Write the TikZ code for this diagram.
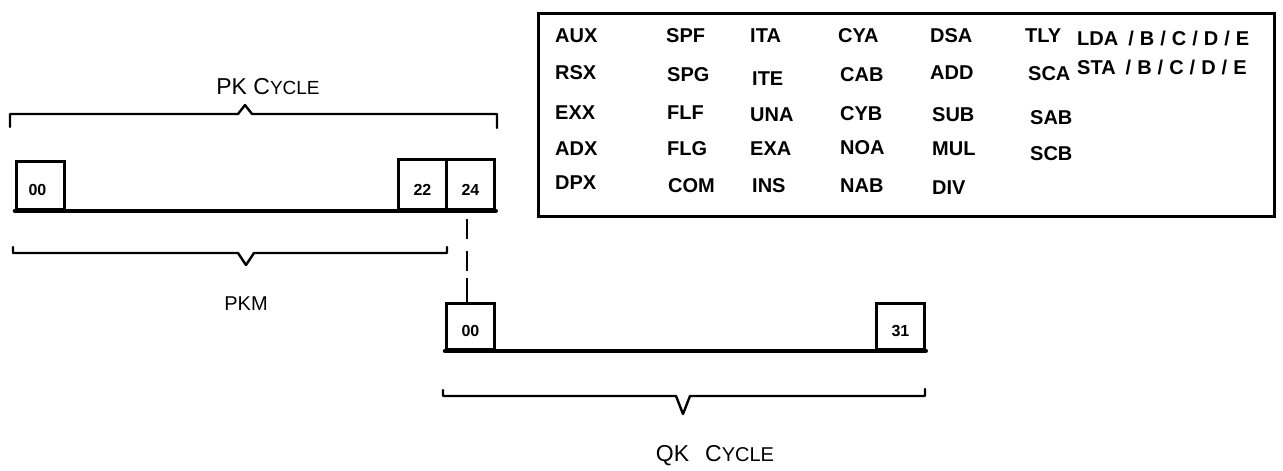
\documentclass[tikz,border=0pt]{standalone}
\usepackage{fontspec}
\setmainfont{Liberation Sans}
\newcommand{\sep}{\hspace{6pt}/\hspace{6pt}}
\begin{document}
\begin{tikzpicture}[x=1pt,y=-1pt,
  brace/.style={line width=2.4pt,line cap=round,line join=round},
  slot/.style={draw,line width=2.8pt,inner sep=0pt,anchor=north west},
  num/.style={font=\fontsize{16}{16}\selectfont\bfseries,inner sep=0pt},
  op/.style={font=\fontsize{20}{20}\selectfont\bfseries,inner sep=0pt,anchor=west},
  lbl/.style={font=\fontsize{23}{23}\selectfont,inner sep=0pt}]
\useasboundingbox (0,0) rectangle (1283,471);
% table
\node[draw,line width=2.8pt,minimum width=736pt,minimum height=203pt,anchor=north west,inner sep=0pt] (tab) at (537,12) {};
\node[op] (r1c1) at (555,36) {AUX};
\node[op] (r1c2) at (666,36) {SPF};
\node[op] (r1c3) at (750,36) {ITA};
\node[op] (r1c4) at (838,36) {CYA};
\node[op] (r1c5) at (930,36) {DSA};
\node[op] (r1c6) at (1025,36) {TLY};
\node[op] (r1c7) at (1077,38) {LDA\hspace{4pt}\sep B\sep C\sep D\sep E};
\node[op] (r2c1) at (555,73) {RSX};
\node[op] (r2c2) at (667,75) {SPG};
\node[op] (r2c3) at (752,79) {ITE};
\node[op] (r2c4) at (840,75) {CAB};
\node[op] (r2c5) at (930,73) {ADD};
\node[op] (r2c6) at (1028,74) {SCA};
\node[op] (r2c7) at (1077,67) {STA\hspace{4pt}\sep B\sep C\sep D\sep E};
\node[op] (r3c1) at (555,113) {EXX};
\node[op] (r3c2) at (667,113) {FLF};
\node[op] (r3c3) at (750,115) {UNA};
\node[op] (r3c4) at (840,114) {CYB};
\node[op] (r3c5) at (932,115) {SUB};
\node[op] (r3c6) at (1030,118) {SAB};
\node[op] (r4c1) at (555,149) {ADX};
\node[op] (r4c2) at (667,149) {FLG};
\node[op] (r4c3) at (750,149) {EXA};
\node[op] (r4c4) at (840,148) {NOA};
\node[op] (r4c5) at (932,149) {MUL};
\node[op] (r4c6) at (1030,154) {SCB};
\node[op] (r5c1) at (555,183) {DPX};
\node[op] (r5c2) at (668,186) {COM};
\node[op] (r5c3) at (752,186) {INS};
\node[op] (r5c4) at (840,186) {NAB};
\node[op] (r5c5) at (932,188) {DIV};
% PK cycle
\node[lbl] (pkc) at (268,87) {PK C{\fontsize{19}{19}\selectfont YCLE}};
\draw[brace] (10,127) -- (10,114) -- (238,114) -- (245,105) -- (252,114) -- (497,114) -- (497,128);
% PK bar
\node[slot,minimum width=48pt,minimum height=48pt] (p00) at (15,160) {};
\node[num] (t00) at ([xshift=-3pt,yshift=21pt]p00.south) {00};
\node[slot,minimum width=48pt,minimum height=50pt] (p22) at (397,158) {};
\node[num] (t22) at ([yshift=21pt]p22.south) {22};
\node[slot,minimum width=48pt,minimum height=50pt] (p24) at (445,158) {};
\node[num] (t24) at ([yshift=21pt]p24.south) {24};
\draw[line width=4.5pt,line cap=round] (p00.south west) -- (p24.south east);
% PKM
\draw[brace] (13,247) -- (13,253) -- (238,253) -- (246,265) -- (254,253) -- (447,253) -- (447,247);
\node[lbl,font=\fontsize{20}{20}\selectfont] (pkm) at (246,304) {PKM};
% QK bar
\node[slot,minimum width=48pt,minimum height=46pt] (q00) at (445,302) {};
\node[num] (tq00) at ([yshift=20pt]q00.south) {00};
\node[slot,minimum width=48pt,minimum height=46pt] (q31) at (875,302) {};
\node[num] (t31) at ([yshift=20pt]q31.south) {31};
\draw[line width=4.5pt,line cap=round] (q00.south west) -- (q31.south east);
% link
\coordinate (lk1) at (467,219);
\coordinate (lk2) at (467,278);
\draw[line width=2.5pt,dash pattern=on 20pt off 12pt] (lk1) -- (lk2);
\draw[line width=2.2pt] (lk2) -- (q00.north -| lk2);
% QK cycle
\draw[brace] (443,390) -- (443,396) -- (676,396) -- (683,414) -- (690,396) -- (925,396) -- (925,389);
\node[lbl] (qkc) at (715,456) {QK\hspace{16pt}C{\fontsize{20}{20}\selectfont YCLE}};
\end{tikzpicture}
\end{document}
